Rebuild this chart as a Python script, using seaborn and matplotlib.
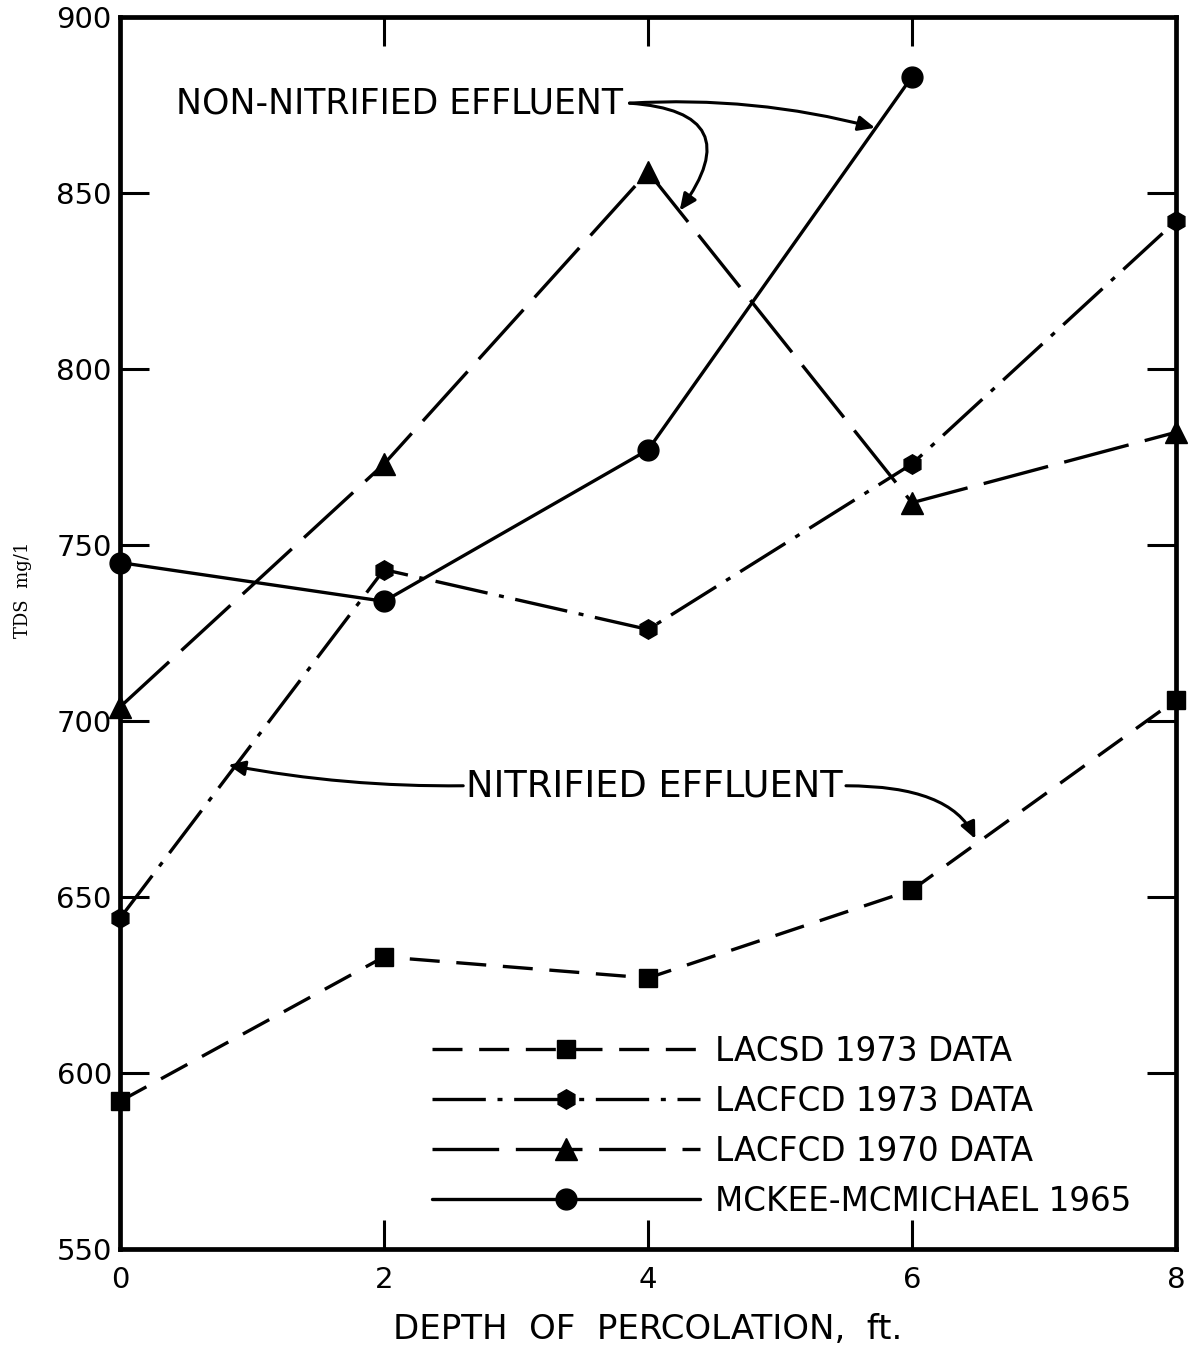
import matplotlib
matplotlib.use("Agg")
import matplotlib.pyplot as plt
import seaborn as sns
import numpy as np
import pandas as pd

# ---- data ----
depth = [0, 2, 4, 6, 8]
lacsd_1973 = [592, 633, 627, 652, 706]
lacfcd_1973 = [644, 743, 726, 773, 842]
lacfcd_1970 = [704, 773, 856, 762, 782]
mckee_depth = [0, 2, 4, 6]
mckee_1965 = [745, 734, 777, 883]

labels = ["LACSD 1973 DATA", "LACFCD 1973 DATA", "LACFCD 1970 DATA", "MCKEE-MCMICHAEL 1965"]
x_ticks = [0, 2, 4, 6, 8]
y_ticks = [550, 600, 650, 700, 750, 800, 850, 900]

sns.set_style("ticks", {"text.color": "black", "axes.labelcolor": "black",
                        "xtick.color": "black", "ytick.color": "black",
                        "axes.edgecolor": "black"})
plt.rcParams['font.family'] = ['DejaVu Sans']

fig = plt.figure(figsize=(11.89, 13.63), dpi=100)
ax = fig.add_axes([0.101, 0.0836, 0.888, 0.904])

lw = 2.4
series = [
    (depth, lacsd_1973, 's', (0, (9, 5)), 13, labels[0]),
    (depth, lacfcd_1973, 'h', (0, (16, 3.5, 1.5, 3.5)), 14, labels[1]),
    (depth, lacfcd_1970, '^', (0, (20, 5)), 16, labels[2]),
    (mckee_depth, mckee_1965, 'o', '-', 15, labels[3]),
]
for xs, ys, mk, ls, ms, lab in series:
    sns.lineplot(x=xs, y=ys, ax=ax, color='black', marker=mk, linestyle=ls,
                 linewidth=lw, markersize=ms, mec='black', mfc='black',
                 mew=1, label=lab, clip_on=False, zorder=3)

ax.set_xlim(0, 8)
ax.set_ylim(550, 900)
ax.set_xticks(x_ticks)
ax.set_yticks(y_ticks)
ax.tick_params(direction='in', length=21, width=2.2, top=True, right=True,
               labelsize=21)
ax.tick_params(axis='x', pad=12)
ax.tick_params(axis='y', pad=6)
for s in ax.spines.values():
    s.set_linewidth(3.4)
ax.tick_params(labeltop=False, labelright=False)

ax.set_xlabel("DEPTH  OF  PERCOLATION,  ft.", fontsize=24.5, labelpad=14)
ax.set_ylabel("TDS  mg/1", fontsize=13, family='DejaVu Serif')
ax.yaxis.set_label_coords(-0.083, 0.535)

leg = ax.legend(loc='lower right', bbox_to_anchor=(0.97, 0.015), frameon=False,
                fontsize=23.5, handlelength=8.2, handletextpad=0.45,
                labelspacing=0.52, numpoints=1, borderaxespad=0)

# annotations
ap = dict(arrowstyle='-|>,head_length=1.0,head_width=0.45', color='black', lw=2.2)
ax.text(0.42, 875.5, "NON-NITRIFIED EFFLUENT", fontsize=25, va='center', ha='left')
ax.annotate("", xy=(4.24, 845), xytext=(3.86, 875.5),
            arrowprops=dict(**ap, connectionstyle="arc3,rad=-0.9", shrinkA=0, shrinkB=0))
ax.annotate("", xy=(5.72, 868.5), xytext=(3.86, 875.5),
            arrowprops=dict(**ap, connectionstyle="arc3,rad=-0.08", shrinkA=0, shrinkB=0))

ax.text(4.05, 681.6, "NITRIFIED EFFLUENT", fontsize=26.5, va='center', ha='center')
ax.annotate("", xy=(0.82, 687.5), xytext=(2.6, 681.6),
            arrowprops=dict(**ap, connectionstyle="arc3,rad=-0.05", shrinkA=0, shrinkB=0))
ax.annotate("", xy=(6.48, 666.5), xytext=(5.5, 681.6),
            arrowprops=dict(**ap, connectionstyle="angle3,angleA=0,angleB=115",
                            shrinkA=0, shrinkB=0))

fig.savefig("out.png", dpi=100)
